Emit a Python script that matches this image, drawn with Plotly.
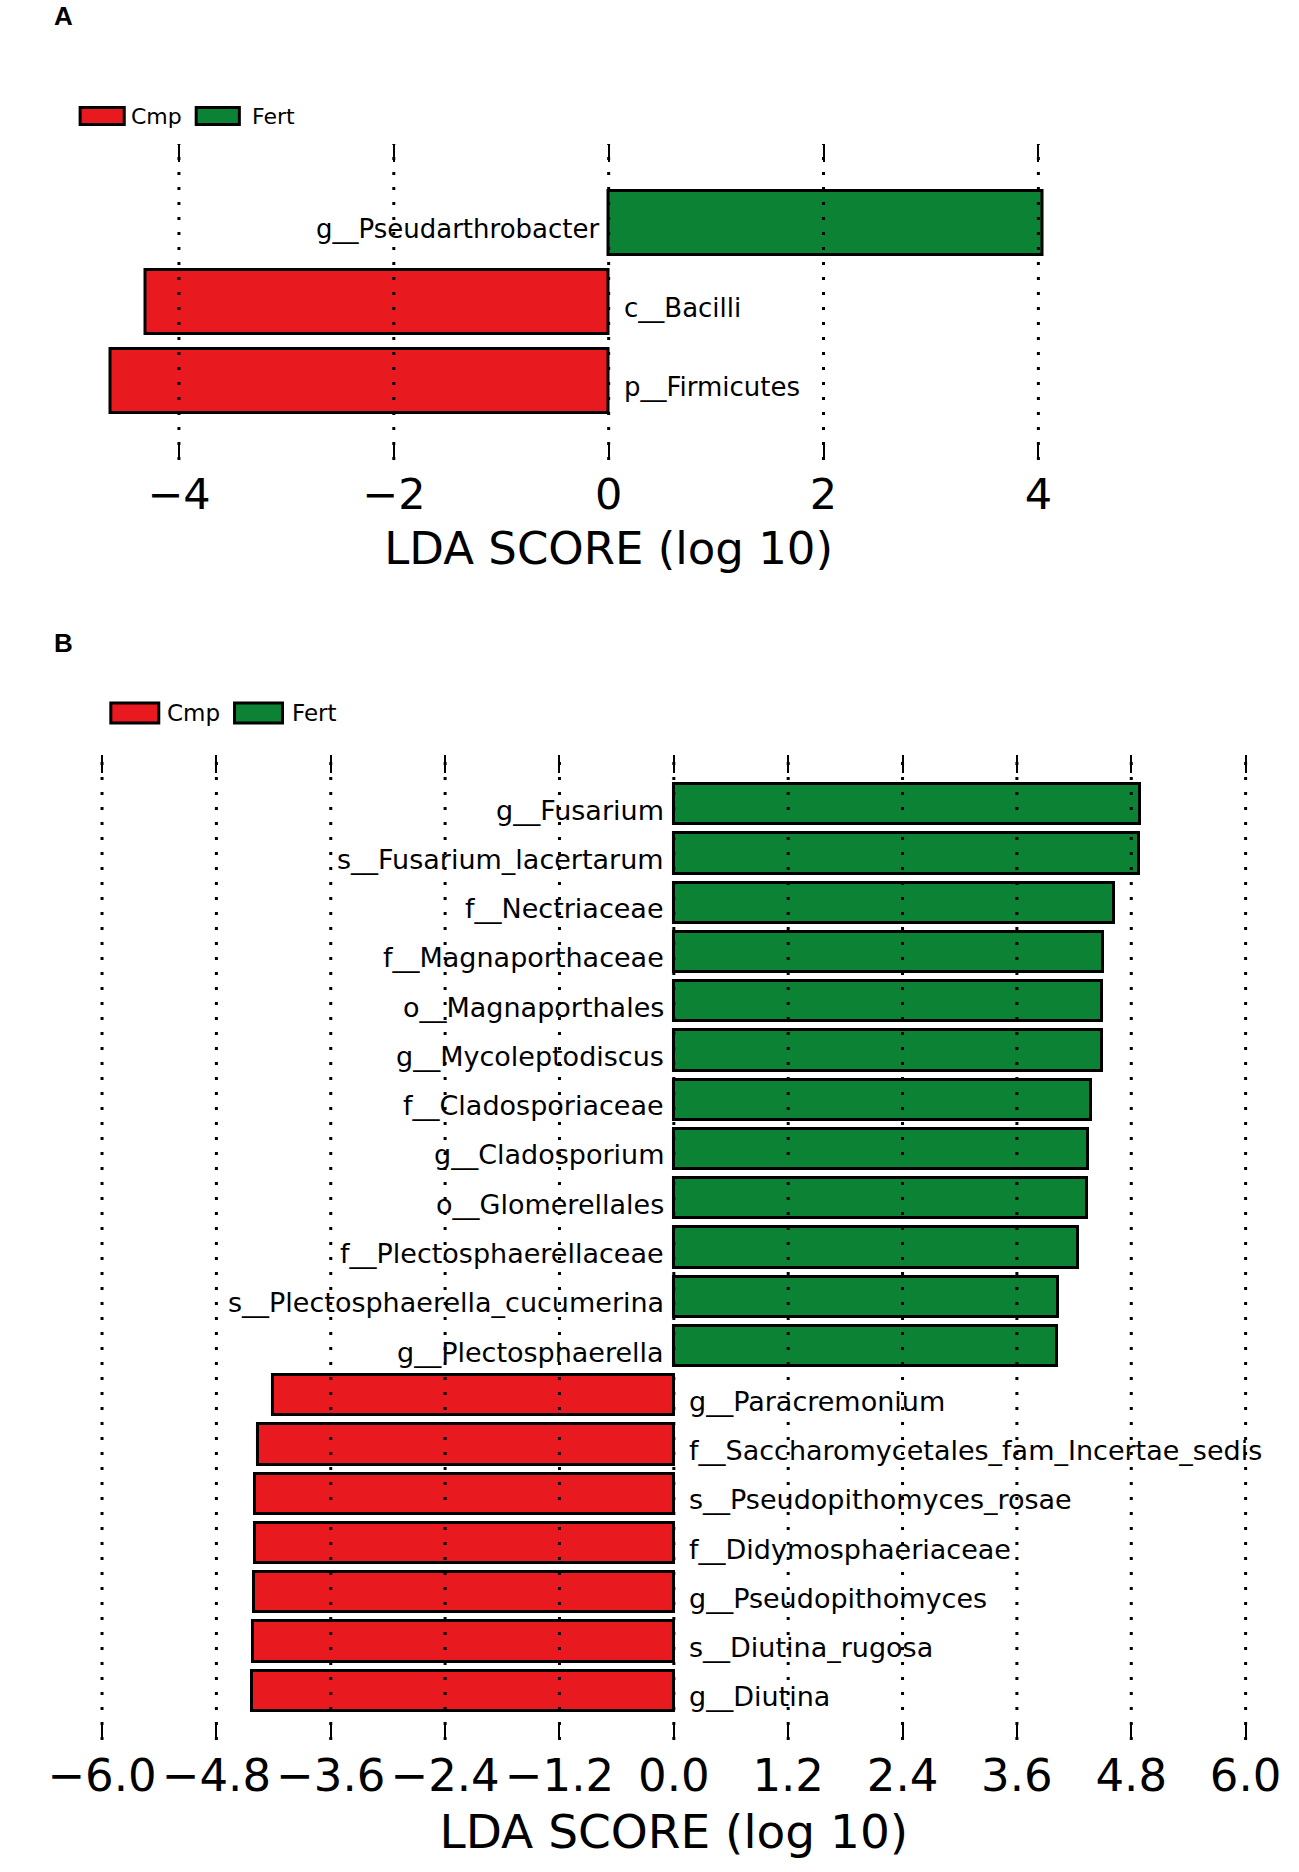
import plotly.graph_objects as go

# panel A : bacteria
taxa_a = ["g__Pseudarthrobacter", "c__Bacilli", "p__Firmicutes"]
lda_a = [4.04, -4.31, -4.64]
ticks_a = [-4, -2, 0, 2, 4]

# panel B : fungi
taxa_b = ["g__Fusarium", "s__Fusarium_lacertarum", "f__Nectriaceae",
          "f__Magnaporthaceae", "o__Magnaporthales", "g__Mycoleptodiscus",
          "f__Cladosporiaceae", "g__Cladosporium", "o__Glomerellales",
          "f__Plectosphaerellaceae", "s__Plectosphaerella_cucumerina",
          "g__Plectosphaerella", "g__Paracremonium",
          "f__Saccharomycetales_fam_Incertae_sedis",
          "s__Pseudopithomyces_rosae", "f__Didymosphaeriaceae",
          "g__Pseudopithomyces", "s__Diutina_rugosa", "g__Diutina"]
lda_b = [4.89, 4.88, 4.62, 4.50, 4.49, 4.49, 4.38, 4.35, 4.33, 4.24, 4.03,
         4.02, -4.21, -4.36, -4.40, -4.40, -4.41, -4.42, -4.43]
ticks_b = [-6.0, -4.8, -3.6, -2.4, -1.2, 0.0, 1.2, 2.4, 3.6, 4.8, 6.0]

groups = ["Cmp", "Fert"]
colors = {"Cmp": "#E81A1F", "Fert": "#0B8234"}

FONT = "DejaVu Sans"
W, H = 1299, 1872

fig = go.Figure()


def add_panel(fig, taxa, lda, xa, ya, label_size):
    grp = ["Fert" if v > 0 else "Cmp" for v in lda]
    fig.add_trace(go.Bar(
        x=lda, y=list(range(len(taxa))), orientation="h",
        marker=dict(color=[colors[g] for g in grp],
                    line=dict(color="black", width=3)),
        width=0.82, xaxis=xa, yaxis=ya, showlegend=False,
        hoverinfo="x+text", hovertext=taxa))
    # taxon names sit next to the zero line, on the side away from the bar
    for i, (name, v) in enumerate(zip(taxa, lda)):
        fig.add_annotation(
            x=0, y=i, xref=xa, yref=ya, text=name, showarrow=False,
            xanchor="right" if v > 0 else "left",
            xshift=-8 if v > 0 else 13, yshift=-6,
            font=dict(family=FONT, size=label_size, color="black"))


add_panel(fig, taxa_a, lda_a, "x", "y", 26)
add_panel(fig, taxa_b, lda_b, "x2", "y2", 27)

# dotted grid on top of the bars
for xa, ticks in (("x", ticks_a), ("x2", ticks_b)):
    for t in ticks:
        fig.add_shape(type="line", xref=xa, yref=xa.replace("x", "y") + " domain",
                      x0=t, x1=t, y0=0, y1=1, layer="above",
                      line=dict(color="black", width=3, dash="3px,12px"))

axis_common = dict(showline=False, zeroline=False, showgrid=False,
                   ticks="inside", ticklen=18, tickwidth=2, tickcolor="black",
                   mirror="ticks", ticklabelstandoff=5,
                   title_text="LDA SCORE (log 10)")

fig.update_layout(
    width=W, height=H, margin=dict(l=0, r=0, t=0, b=0),
    plot_bgcolor="white", paper_bgcolor="white",
    font=dict(family=FONT, color="black"),
    bargap=0,
    xaxis=dict(domain=[0.0285, 0.8907], range=[-5, 5], anchor="y",
               tickvals=ticks_a, tickformat="d",
               tickfont=dict(size=43), title_font=dict(size=45),
               title_standoff=14, **axis_common),
    yaxis=dict(domain=[0.7543, 0.9231], range=[len(taxa_a), -1],
               anchor="x", visible=False),
    xaxis2=dict(domain=[0.0377, 0.9861], range=[-6.2, 6.2], anchor="y2",
                tickvals=ticks_b, tickformat=".1f",
                tickfont=dict(size=45), title_font=dict(size=47),
                title_standoff=14, **axis_common),
    yaxis2=dict(domain=[0.0705, 0.5967], range=[len(taxa_b), -1],
                anchor="x2", visible=False),
)

# panel letters
for txt, py in (("A", 16), ("B", 643)):
    fig.add_annotation(x=17 / W, y=1 - py / H, xref="paper", yref="paper",
                       text="<b>%s</b>" % txt, showarrow=False,
                       xanchor="left", yanchor="middle",
                       font=dict(family="Liberation Sans", size=26))

# legends drawn as boxes + text
legend_rows = [
    # (y centre px, box height, [(box x0, box x1, text x)], font size)
    (116, 17, [(46, 92, 97), (167, 212, 223)], 22),
    (713, 20, [(78, 128, 134), (207, 257, 265)], 23),
]
for yc, bh, boxes, fs in legend_rows:
    for g, (bx0, bx1, tx) in zip(groups, boxes):
        fig.add_shape(type="rect", xref="paper", yref="paper",
                      x0=bx0 / W, x1=bx1 / W,
                      y0=1 - (yc + bh / 2) / H, y1=1 - (yc - bh / 2) / H,
                      fillcolor=colors[g], line=dict(color="black", width=3))
        fig.add_annotation(x=tx / W, y=1 - yc / H, xref="paper", yref="paper",
                           text=g, showarrow=False, xanchor="left",
                           yanchor="middle",
                           font=dict(family=FONT, size=fs))

fig.write_html("out.html", config={"displayModeBar": False},
               post_script="document.body.style.margin='0';")
